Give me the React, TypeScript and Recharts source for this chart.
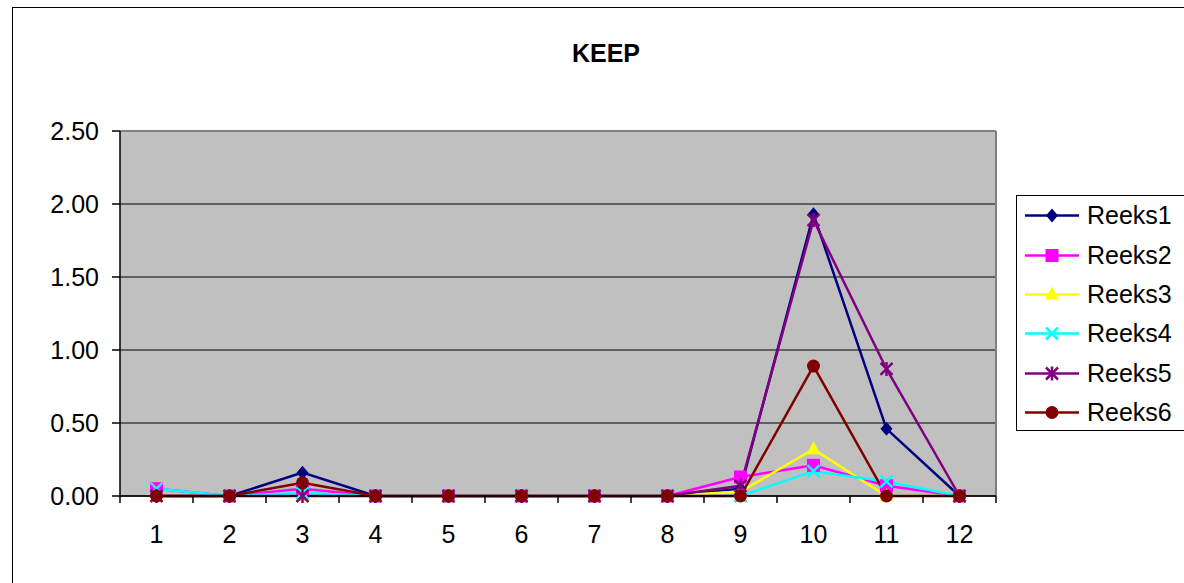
import React from "react";
import {
  LineChart,
  Line,
  XAxis,
  YAxis,
  CartesianGrid,
  ReferenceLine,
  Legend,
  Customized,
} from "recharts";

const categories = [1, 2, 3, 4, 5, 6, 7, 8, 9, 10, 11, 12];
const reeks1 = [0, 0, 0.16, 0, 0, 0, 0, 0, 0.05, 1.93, 0.46, 0];
const reeks2 = [0.05, 0, 0.05, 0, 0, 0, 0, 0, 0.13, 0.21, 0.07, 0];
const reeks3 = [0, 0, 0, 0, 0, 0, 0, 0, 0.03, 0.32, 0, 0];
const reeks4 = [0.05, 0, 0.02, 0, 0, 0, 0, 0, 0, 0.17, 0.1, 0];
const reeks5 = [0, 0, 0, 0, 0, 0, 0, 0, 0.07, 1.89, 0.87, 0];
const reeks6 = [0, 0, 0.09, 0, 0, 0, 0, 0, 0, 0.89, 0, 0];
const yTicks = [0, 0.5, 1, 1.5, 2, 2.5];
const title = "KEEP";

const series = [
  { key: "Reeks1", values: reeks1, color: "#000080", shape: "diamond" },
  { key: "Reeks2", values: reeks2, color: "#FF00FF", shape: "square" },
  { key: "Reeks3", values: reeks3, color: "#FFFF00", shape: "triangle" },
  { key: "Reeks4", values: reeks4, color: "#00FFFF", shape: "x" },
  { key: "Reeks5", values: reeks5, color: "#800080", shape: "star" },
  { key: "Reeks6", values: reeks6, color: "#800000", shape: "circle" },
];

const data = categories.map((c, i) => {
  const row: any = { x: c };
  series.forEach((s) => (row[s.key] = s.values[i]));
  return row;
});

// ticks at category edges (tick marks) and centres (labels)
const xTicks: number[] = [];
for (let i = 0; i <= categories.length; i++) {
  xTicks.push(i + 0.5);
  if (i < categories.length) xTicks.push(categories[i]);
}

const FONT = "'Liberation Sans', Arial, sans-serif";

function Marker({ shape, cx, cy, color }: any) {
  switch (shape) {
    case "diamond":
      return (
        <polygon
          points={`${cx},${cy - 7} ${cx + 6},${cy} ${cx},${cy + 7} ${cx - 6},${cy}`}
          fill={color}
        />
      );
    case "square":
      return <rect x={cx - 6.5} y={cy - 6.5} width={13} height={13} fill={color} />;
    case "triangle":
      return (
        <polygon
          points={`${cx},${cy - 8} ${cx + 7},${cy + 5} ${cx - 7},${cy + 5}`}
          fill={color}
        />
      );
    case "x":
      return (
        <g stroke={color} strokeWidth={2.5}>
          <line x1={cx - 6} y1={cy - 6} x2={cx + 6} y2={cy + 6} />
          <line x1={cx - 6} y1={cy + 6} x2={cx + 6} y2={cy - 6} />
        </g>
      );
    case "star":
      return (
        <g stroke={color} strokeWidth={2.5}>
          <line x1={cx - 6} y1={cy - 6} x2={cx + 6} y2={cy + 6} />
          <line x1={cx - 6} y1={cy + 6} x2={cx + 6} y2={cy - 6} />
          <line x1={cx} y1={cy - 7} x2={cx} y2={cy + 7} />
        </g>
      );
    default:
      return <circle cx={cx} cy={cy} r={6.5} fill={color} />;
  }
}

const XTick = (props: any) => {
  const { x, y, payload } = props;
  const v = payload.value;
  if (Number.isInteger(v)) {
    return (
      <text x={x} y={y} dy="0.71em" textAnchor="middle" fontSize={25} fontFamily={FONT} fill="#000">
        {v}
      </text>
    );
  }
  return <line x1={x} x2={x} y1={y - 29} y2={y - 22} stroke="#000" strokeWidth={1.5} />;
};

const LegendBox = () => (
  <div
    style={{
      width: 220,
      height: 236,
      border: "1px solid #000",
      background: "#fff",
      boxSizing: "border-box",
      fontFamily: FONT,
      fontSize: 25,
    }}
  >
    {series.map((s) => (
      <div key={s.key} style={{ height: 39.4, display: "flex", alignItems: "center" }}>
        <svg width={70} height={39} style={{ display: "block" }}>
          <line x1={8} x2={62} y1={19.5} y2={19.5} stroke={s.color} strokeWidth={2.5} />
          <Marker shape={s.shape} cx={35} cy={19.5} color={s.color} />
        </svg>
        <span style={{ lineHeight: "39px" }}>{s.key}</span>
      </div>
    ))}
  </div>
);

export default function App() {
  return (
    <div
      style={{
        position: "absolute",
        left: 12,
        top: 7,
        width: 1172,
        height: 576,
        borderLeft: "1px solid #000",
        borderTop: "1px solid #000",
        overflow: "hidden",
        boxSizing: "border-box",
        background: "#fff",
      }}
    >
      <LineChart
        width={1250}
        height={600}
        data={data}
        margin={{ top: 123, right: 267, bottom: 52, left: 0 }}
        style={{ fontFamily: FONT }}
      >
        <CartesianGrid
          vertical={false}
          stroke="#000"
          strokeWidth={1.2}
          fill="#C0C0C0"
          fillOpacity={1}
        />
        <XAxis
          dataKey="x"
          type="number"
          domain={[0.5, 12.5]}
          ticks={xTicks}
          interval={0}
          tickLine={false}
          tickSize={7}
          tickMargin={22}
          tick={<XTick />}
          axisLine={{ stroke: "#000", strokeWidth: 1.5 }}
          height={60}
        />
        <YAxis
          domain={[0, 2.5]}
          ticks={yTicks}
          tickFormatter={(v: number) => v.toFixed(2)}
          width={107}
          tickSize={8}
          tickMargin={13}
          tickLine={{ stroke: "#000", strokeWidth: 1.5 }}
          axisLine={{ stroke: "#000", strokeWidth: 1.5 }}
          tick={{ fontSize: 25, fill: "#000", fontFamily: FONT }}
        />
        <ReferenceLine y={2.5} stroke="#808080" strokeWidth={2} />
        <ReferenceLine x={12.5} stroke="#808080" strokeWidth={2} />
        {series.map((s) => (
          <Line
            key={s.key}
            dataKey={s.key}
            name={s.key}
            stroke={s.color}
            strokeWidth={2.5}
            isAnimationActive={false}
            activeDot={false}
            dot={(p: any) => (
              <Marker key={`${s.key}-${p.index}`} shape={s.shape} cx={p.cx} cy={p.cy} color={s.color} />
            )}
          />
        ))}
        <Legend
          layout="vertical"
          align="center"
          verticalAlign="middle"
          content={<LegendBox />}
          wrapperStyle={{ left: 1003, top: 187, width: 220, height: 236 }}
        />
        <Customized
          component={() => (
            <text x={593} y={54} textAnchor="middle" fontSize={25} fontWeight="bold" fontFamily={FONT} fill="#000">
              {title}
            </text>
          )}
        />
      </LineChart>
    </div>
  );
}
